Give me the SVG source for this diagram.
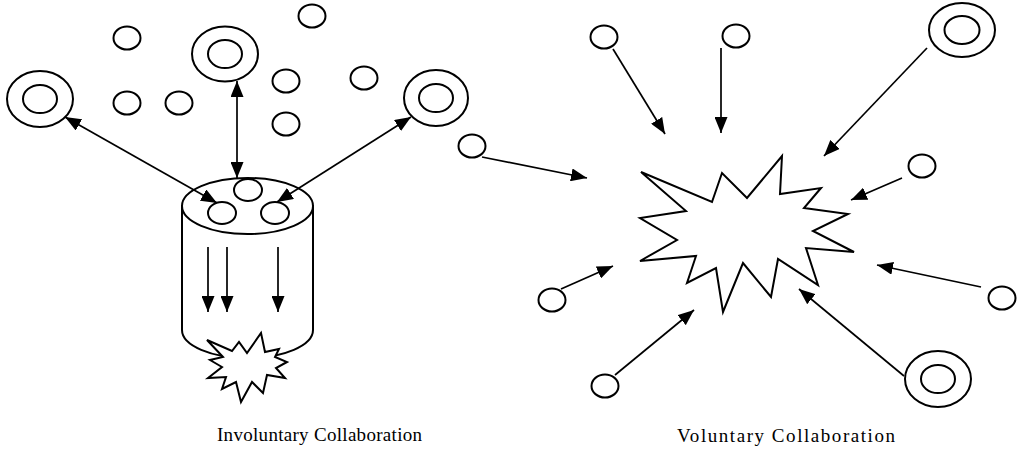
<svg xmlns="http://www.w3.org/2000/svg" width="1018" height="455" viewBox="0 0 1018 455">
<style>
.c{fill:#fff;stroke:#000;stroke-width:2}
.ln{stroke:#000;stroke-width:1.7;fill:none}
.t{font-family:"Liberation Serif","DejaVu Serif",serif;font-size:19px;fill:#000}
</style>
<defs>
<marker id="ah" viewBox="0 0 16 13" refX="16" refY="6.5" markerWidth="16" markerHeight="13" markerUnits="userSpaceOnUse" orient="auto-start-reverse">
<path d="M0,0 L16,6.5 L0,13 z" fill="#000"/>
</marker>
</defs>
<rect width="1018" height="455" fill="#fff"/>

<!-- Left: involuntary -->
<g id="cylinder">
<path class="c" d="M182,206 L182,330 A65.5,28 0 0 0 313,330 L313,206 Z"/>
<ellipse class="c" cx="247.5" cy="206" rx="65.5" ry="28"/>
<ellipse class="c" cx="248" cy="190" rx="14" ry="11"/>
<ellipse class="c" cx="222" cy="213" rx="14" ry="11"/>
<ellipse class="c" cx="275" cy="213" rx="14" ry="11"/>
</g>
<g id="small-burst">
<polygon class="c" points="207,340 232,351 239,342 247,353 261,333 265,352 279,349 275,357 287,362 276,368 285,378 267,375 263,393 252,382 241,402 236,382 222,389 226,377 208,378 222,367 210,360 223,357"/>
</g>
<g id="left-nodes">
<g id="ld1"><ellipse class="c" cx="40" cy="99" rx="33" ry="28"/><ellipse class="c" cx="40" cy="99" rx="17" ry="14"/></g>
<g id="ld2"><ellipse class="c" cx="225" cy="54" rx="33" ry="27.5"/><ellipse class="c" cx="225" cy="54" rx="17" ry="14"/></g>
<g id="ld3"><ellipse class="c" cx="436" cy="98" rx="32" ry="28"/><ellipse class="c" cx="436" cy="98" rx="17" ry="14"/></g>
<g id="ls1"><ellipse class="c" cx="127" cy="38" rx="13.5" ry="11.5"/></g>
<g id="ls2"><ellipse class="c" cx="312" cy="16" rx="13.5" ry="11.5"/></g>
<g id="ls3"><ellipse class="c" cx="127" cy="103" rx="13.5" ry="11.5"/></g>
<g id="ls4"><ellipse class="c" cx="179" cy="103" rx="13.5" ry="11.5"/></g>
<g id="ls5"><ellipse class="c" cx="286" cy="81" rx="13.5" ry="11.5"/></g>
<g id="ls6"><ellipse class="c" cx="286" cy="124" rx="13.5" ry="11.5"/></g>
<g id="ls7"><ellipse class="c" cx="364" cy="78" rx="13.5" ry="11.5"/></g>
</g>

<!-- Right: voluntary -->
<g id="big-burst">
<polygon class="c" points="641,172 712,202 722,173 747,198 782,156 780,194 821,188 804,208 848,214 813,231 854,252 806,248 818,285 778,259 771,297 743,263 723,312 716,268 687,283 696,256 640,261 677,240 640,218 686,211"/>
</g>
<g id="right-nodes">
<g id="rd1"><ellipse class="c" cx="962" cy="30" rx="33" ry="27"/><ellipse class="c" cx="962" cy="30" rx="17.5" ry="14"/></g>
<g id="rd2"><ellipse class="c" cx="938" cy="379" rx="33" ry="28"/><ellipse class="c" cx="938" cy="379" rx="17" ry="14"/></g>
<g id="rs1"><ellipse class="c" cx="604" cy="37" rx="13.5" ry="11.5"/></g>
<g id="rs2"><ellipse class="c" cx="736" cy="36" rx="13.5" ry="11.5"/></g>
<g id="rs3"><ellipse class="c" cx="472" cy="146" rx="13.5" ry="11.5"/></g>
<g id="rs4"><ellipse class="c" cx="922" cy="166" rx="13.5" ry="11.5"/></g>
<g id="rs5"><ellipse class="c" cx="552" cy="300" rx="13.5" ry="11.5"/></g>
<g id="rs6"><ellipse class="c" cx="605" cy="386" rx="13.5" ry="11.5"/></g>
<g id="rs7"><ellipse class="c" cx="1002" cy="298" rx="13.5" ry="11.5"/></g>
</g>

<g id="connectors">
<line class="ln" x1="65" y1="117" x2="217" y2="203" marker-start="url(#ah)" marker-end="url(#ah)"/>
<line class="ln" x1="237" y1="81" x2="237" y2="178" marker-start="url(#ah)" marker-end="url(#ah)"/>
<line class="ln" x1="411" y1="117" x2="277" y2="202" marker-start="url(#ah)" marker-end="url(#ah)"/>
<line class="ln" x1="208" y1="247" x2="208" y2="312" marker-end="url(#ah)"/>
<line class="ln" x1="227" y1="247" x2="227" y2="312" marker-end="url(#ah)"/>
<line class="ln" x1="278" y1="247" x2="278" y2="312" marker-end="url(#ah)"/>

<line class="ln" x1="613" y1="49" x2="665" y2="134" marker-end="url(#ah)"/>
<line class="ln" x1="721" y1="48" x2="721" y2="133" marker-end="url(#ah)"/>
<line class="ln" x1="927" y1="48" x2="824" y2="156" marker-end="url(#ah)"/>
<line class="ln" x1="482" y1="157" x2="587" y2="178" marker-end="url(#ah)"/>
<line class="ln" x1="902" y1="178" x2="851" y2="200" marker-end="url(#ah)"/>
<line class="ln" x1="561" y1="289" x2="613" y2="266" marker-end="url(#ah)"/>
<line class="ln" x1="615" y1="375" x2="694" y2="310" marker-end="url(#ah)"/>
<line class="ln" x1="904" y1="376" x2="799" y2="289" marker-end="url(#ah)"/>
<line class="ln" x1="981" y1="287" x2="877" y2="265" marker-end="url(#ah)"/>
</g>

<g id="labels">
<text class="t" x="217" y="441" textLength="205" lengthAdjust="spacing">Involuntary Collaboration</text>
<text class="t" x="677" y="442" textLength="218" lengthAdjust="spacing">Voluntary Collaboration</text>
</g>
</svg>
